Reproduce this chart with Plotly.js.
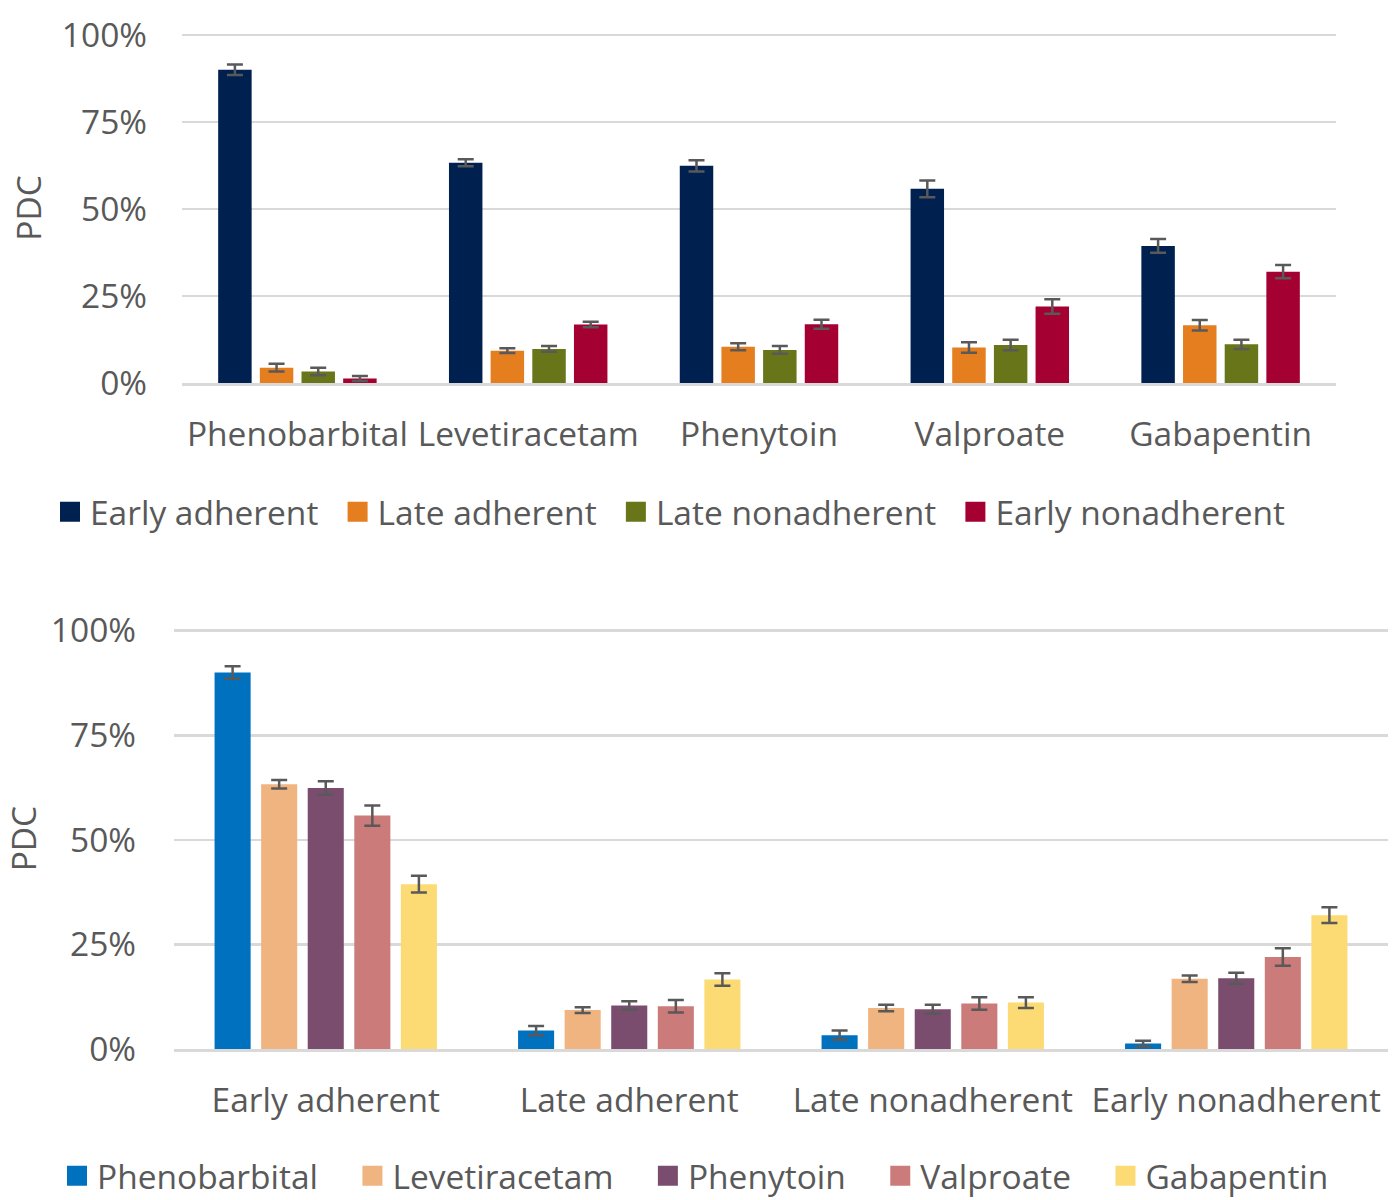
<!DOCTYPE html>
<html>
<head>
<meta charset="utf-8">
<script src="https://cdn.plot.ly/plotly-3.0.1.min.js"></script>
<style>
html,body{margin:0;padding:0;background:#fff;}
#chart{width:1393px;height:1200px;}
</style>
</head>
<body>
<div id="chart"></div>
<script>
// ---- Data ----
const drugs = ["Phenobarbital", "Levetiracetam", "Phenytoin", "Valproate", "Gabapentin"];
const groups = ["Early adherent", "Late adherent", "Late nonadherent", "Early nonadherent"];

// PDC (%) per drug, one array per adherence group
const earlyAdherent    = [90.0, 63.3, 62.4, 55.8, 39.4];
const lateAdherent     = [4.4, 9.3, 10.4, 10.2, 16.6];
const lateNonadherent  = [3.3, 9.8, 9.5, 10.9, 11.1];
const earlyNonadherent = [1.3, 16.8, 16.9, 22.0, 32.0];

// error (± %) per drug, one array per adherence group
const errEarlyAdherent    = [1.5, 1.0, 1.6, 2.4, 2.0];
const errLateAdherent     = [1.1, 0.7, 1.0, 1.5, 1.5];
const errLateNonadherent  = [1.1, 0.8, 1.1, 1.5, 1.3];
const errEarlyNonadherent = [0.7, 0.8, 1.3, 2.1, 1.9];

const groupColors = ["#00204F", "#E57E1F", "#687619", "#A40032"];
const drugColors = ["#0071BF", "#F0B481", "#7A4D6E", "#CC7B7B", "#FCDB74"];

const yTicks = [0, 25, 50, 75, 100];

// ---- Styling constants ----
const W = 1393, H = 1200;
const font = {family: "Open Sans, Noto Sans, sans-serif", size: 33.5, color: "#595959"};
const errStyle = {type: "data", visible: true, color: "#595959", thickness: 2.5, width: 8};
const NB = "\u00A0", THIN = "\u2009", HAIR = "\u200A";

// bar slot / width in category units
const topBar = {slot: 41.7 / 231, w: 33.5 / 231};
const botBar = {slot: 46.5 / 303, w: 36 / 303};

const groupVals = [earlyAdherent, lateAdherent, lateNonadherent, earlyNonadherent];
const groupErrs = [errEarlyAdherent, errLateAdherent, errLateNonadherent, errEarlyNonadherent];

const traces = [];

// Top chart: x = drugs, series = groups
groups.forEach((g, gi) => {
  const n = groups.length;
  traces.push({
    type: "bar", name: g, x: drugs, y: groupVals[gi],
    width: topBar.w,
    offset: (gi - n / 2) * topBar.slot + (topBar.slot - topBar.w) / 2,
    error_y: Object.assign({array: groupErrs[gi]}, errStyle),
    marker: {color: groupColors[gi]},
    xaxis: "x", yaxis: "y", showlegend: false
  });
});

// Bottom chart: x = groups, series = drugs
drugs.forEach((d, di) => {
  const n = drugs.length;
  traces.push({
    type: "bar", name: d, x: groups,
    y: groupVals.map(v => v[di]),
    width: botBar.w,
    offset: (di - n / 2) * botBar.slot + (botBar.slot - botBar.w) / 2,
    error_y: Object.assign({array: groupErrs.map(e => e[di])}, errStyle),
    marker: {color: drugColors[di]},
    xaxis: "x2", yaxis: "y2", showlegend: false
  });
});

// Legend entries (square swatches)
groups.forEach((g, gi) => {
  traces.push({
    type: "scatter", mode: "markers", name: g + NB + THIN, x: [null], y: [null],
    marker: {symbol: "square", size: 16, color: groupColors[gi],
             line: {color: groupColors[gi], width: 4}},
    xaxis: "x", yaxis: "y", legend: "legend", hoverinfo: "skip"
  });
});
drugs.forEach((d, di) => {
  traces.push({
    type: "scatter", mode: "markers", name: d + NB + NB + NB + HAIR, x: [null], y: [null],
    marker: {symbol: "square", size: 16, color: drugColors[di],
             line: {color: drugColors[di], width: 4}},
    xaxis: "x2", yaxis: "y2", legend: "legend2", hoverinfo: "skip"
  });
});

const RMAX = 100.6;
function yAx(zeroPx, pxPer100, anchor, standoff, titleStandoff) {
  const topPx = zeroPx - pxPer100 * RMAX / 100;
  return {
    domain: [1 - zeroPx / H, 1 - topPx / H],
    anchor: anchor,
    range: [0, RMAX],
    tickvals: yTicks,
    ticktext: yTicks.map(v => v + "%"),
    showgrid: true, gridcolor: "#D9D9D9", gridwidth: 2.5,
    zeroline: false, showline: false,
    ticks: "", ticklabelstandoff: standoff,
    tickfont: font,
    title: {text: "PDC", font: font, standoff: titleStandoff}
  };
}
function xAx(left, right, anchor, cats) {
  return {
    domain: [left / W, right / W],
    anchor: anchor,
    type: "category",
    categoryarray: cats, categoryorder: "array",
    range: [-0.5, cats.length - 0.5],
    showgrid: false, zeroline: false,
    showline: true, linecolor: "#D9D9D9", linewidth: 2.5,
    ticks: "", ticklabelstandoff: 20,
    tickfont: font
  };
}

const layout = {
  width: W, height: H,
  margin: {l: 0, r: 0, t: 0, b: 0, autoexpand: false},
  paper_bgcolor: "#fff", plot_bgcolor: "#fff",
  font: font,
  barmode: "group",
  xaxis: xAx(182, 1336, "y", drugs),
  yaxis: yAx(383, 348, "x", 34, 10),
  xaxis2: xAx(174, 1388, "y2", groups),
  yaxis2: yAx(1049, 418.3, "x2", 37, 28),
  legend: {orientation: "h", x: 50 / W, xanchor: "left", y: 1 - 512 / H, yanchor: "middle",
           font: font, bgcolor: "rgba(0,0,0,0)", traceorder: "normal"},
  legend2: {orientation: "h", x: 57 / W, xanchor: "left", y: 1 - 1176 / H, yanchor: "middle",
            font: font, bgcolor: "rgba(0,0,0,0)", traceorder: "normal"},
  showlegend: true
};

Plotly.newPlot("chart", traces, layout, {displayModeBar: false, staticPlot: true});
</script>
</body>
</html>
